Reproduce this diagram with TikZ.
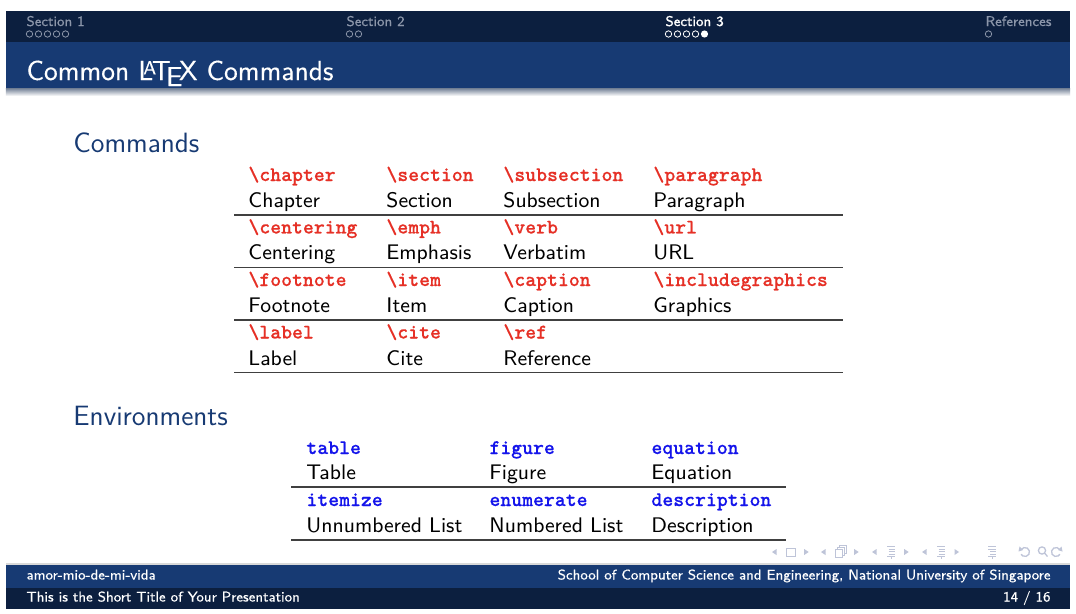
\documentclass[tikz,border=0pt]{standalone}
\usepackage{fontspec}
\renewcommand{\familydefault}{\sfdefault}
\newfontfamily\codefont{lmmonolt10-bold}[Extension=.otf, FakeBold=0.25]
\newfontfamily\headfont{lmsans8-regular}[Extension=.otf, FakeBold=0.35]
\newfontfamily\headfontbf{lmsans8-regular}[Extension=.otf, FakeBold=1.1]
\newfontfamily\titlefont{lmsans10-regular}[Extension=.otf, FakeBold=0.3]
\definecolor{navy}{RGB}{12,31,63}
\definecolor{tblue}{RGB}{23,58,115}
\definecolor{secgray}{RGB}{140,150,170}
\definecolor{cred}{RGB}{230,48,38}
\definecolor{cblue}{RGB}{20,20,235}
\definecolor{navgray}{RGB}{190,196,216}
\tikzset{
  tinytxt/.style={inner sep=0pt, font=\headfont\fontsize{6.0}{7}\selectfont},
  sechead/.style={tinytxt, anchor=base west},
  dotrow/.style={draw=#1, line width=0.35pt},
  frametitle/.style={inner sep=0pt, anchor=base west, text=white, font=\titlefont\fontsize{11.7}{14}\selectfont},
  blockhead/.style={inner sep=0pt, anchor=base west, text=tblue, font=\fontsize{11.9}{14}\selectfont},
  rcode/.style={inner sep=0pt, anchor=base west, text=cred, font=\codefont\fontsize{8.85}{10}\selectfont},
  bcode/.style={inner sep=0pt, anchor=base west, text=cblue, font=\codefont\fontsize{8.85}{10}\selectfont},
  celltxt/.style={inner sep=0pt, anchor=base west, text=black, font=\fontsize{9}{11}\selectfont},
  midrule/.style={draw=black!75, line width=0.45pt},
  botrule/.style={draw=black!75, line width=0.6pt},
  foottxt/.style={tinytxt, text=white},
  nav/.style={navgray, line width=0.4pt},
}
\begin{document}
\begin{tikzpicture}[x=0.4263pt,y=-0.4263pt]
\useasboundingbox (0,0) rectangle (1076,614);
\fill[white] (0,0) rectangle (1076,614);
% head bars
\fill[navy] (6,11) rectangle (1070,42);
\fill[tblue] (6,42) rectangle (1070,88);
\shade[top color=black!35!tblue!60, bottom color=white] (6,88) rectangle (1070,96);
% section navigation
\node[sechead, text=secgray] (s1) at (26,26) {Section 1};
\node[sechead, text=secgray] (s2) at (346,26) {Section 2};
\node[sechead, text=white, font=\headfontbf\fontsize{6.0}{7}\selectfont] (s3) at (665,26) {Section 3};
\node[sechead, text=secgray] (s4) at (985,26) {References};
\foreach \i in {0,...,4} \draw[dotrow=secgray] (29.5+9*\i,34) circle (3.2);
\foreach \i in {0,1} \draw[dotrow=secgray] (349.5+9*\i,34) circle (3.2);
\foreach \i in {0,...,3} \draw[dotrow=white] (668.5+9*\i,34) circle (3.2);
\fill[white] (668.5+36,34) circle (3.6);
\draw[dotrow=secgray] (988.5,34) circle (3.2);
% frame title
\node[frametitle] (title) at (26,80) {Common \LaTeX{} Commands};
% Commands block
\node[blockhead] (h1) at (73,152.5) {Commands};
% table 1
\def\ca{248}\def\cb{386}\def\cc{503}\def\cd{653}
\node[rcode] (c11) at (\ca,181) {\textbackslash chapter};
\node[rcode] (c12) at (\cb,181) {\textbackslash section};
\node[rcode] (c13) at (\cc,181) {\textbackslash subsection};
\node[rcode] (c14) at (\cd,181) {\textbackslash paragraph};
\node[celltxt] (t11) at (\ca,207.5) {Chapter};
\node[celltxt] (t12) at (\cb,207.5) {Section};
\node[celltxt] (t13) at (\cc,207.5) {Subsection};
\node[celltxt] (t14) at (\cd,207.5) {Paragraph};
\node[rcode] (c21) at (\ca,233.5) {\textbackslash centering};
\node[rcode] (c22) at (\cb,233.5) {\textbackslash emph};
\node[rcode] (c23) at (\cc,233.5) {\textbackslash verb};
\node[rcode] (c24) at (\cd,233.5) {\textbackslash url};
\node[celltxt] (t21) at (\ca,260) {Centering};
\node[celltxt] (t22) at (\cb,260) {Emphasis};
\node[celltxt] (t23) at (\cc,260) {Verbatim};
\node[celltxt] (t24) at (\cd,260) {URL};
\node[rcode] (c31) at (\ca,286) {\textbackslash footnote};
\node[rcode] (c32) at (\cb,286) {\textbackslash item};
\node[rcode] (c33) at (\cc,286) {\textbackslash caption};
\node[rcode] (c34) at (\cd,286) {\textbackslash includegraphics};
\node[celltxt] (t31) at (\ca,312.5) {Footnote};
\node[celltxt] (t32) at (\cb,312.5) {Item};
\node[celltxt] (t33) at (\cc,312.5) {Caption};
\node[celltxt] (t34) at (\cd,312.5) {Graphics};
\node[rcode] (c41) at (\ca,338.5) {\textbackslash label};
\node[rcode] (c42) at (\cb,338.5) {\textbackslash cite};
\node[rcode] (c43) at (\cc,338.5) {\textbackslash ref};
\node[celltxt] (t41) at (\ca,365) {Label};
\node[celltxt] (t42) at (\cb,365) {Cite};
\node[celltxt] (t43) at (\cc,365) {Reference};
\draw[midrule] (234,215) -- (843,215);
\draw[midrule] (234,267.5) -- (843,267.5);
\draw[midrule] (234,320) -- (843,320);
\draw[botrule] (234,372.5) -- (843,372.5);
% Environments block
\node[blockhead] (h2) at (73,425.5) {Environments};
\def\ea{306}\def\eb{489}\def\ec{651}
\node[bcode] (e11) at (\ea,454) {table};
\node[bcode] (e12) at (\eb,454) {figure};
\node[bcode] (e13) at (\ec,454) {equation};
\node[celltxt] (u11) at (\ea,479.5) {Table};
\node[celltxt] (u12) at (\eb,479.5) {Figure};
\node[celltxt] (u13) at (\ec,479.5) {Equation};
\node[bcode] (e21) at (\ea,506) {itemize};
\node[bcode] (e22) at (\eb,506) {enumerate};
\node[bcode] (e23) at (\ec,506) {description};
\node[celltxt] (u21) at (\ea,532) {Unnumbered List};
\node[celltxt] (u22) at (\eb,532) {Numbered List};
\node[celltxt] (u23) at (\ec,532) {Description};
\draw[midrule] (291,487) -- (786,487);
\draw[botrule] (291,540) -- (786,540);
% navigation symbols
\begin{scope}[nav]
  \foreach \x in {774,823,874,924} \fill (\x+2.5,549) -- (\x-2,552) -- (\x+2.5,555) -- cycle;
  \foreach \x in {806.7,856.7,906.7,957} \fill (\x-2.5,549) -- (\x+2,552) -- (\x-2.5,555) -- cycle;
  \draw (786,548) rectangle (795,556);
  \draw (835,549.5) rectangle (842,557) (837,549.5) -- (837,547.5) -- (844,547.5) -- (844,555) -- (842,555)
        (839,547.5) -- (839,545.5) -- (846,545.5) -- (846,553) -- (844,553);
  \foreach \x in {891,941} {
    \draw (\x-4,546.5) -- (\x+4,546.5) (\x-2.5,549) -- (\x+4,549) (\x-2.5,551.5) -- (\x+4,551.5)
          (\x-2.5,554) -- (\x+4,554) (\x-4,556.5) -- (\x+4,556.5) (\x,556.5) -- (\x,559);
  }
  \draw (988,546.5) -- (996,546.5) (988,549) -- (996,549) (990,551.5) -- (996,551.5)
        (990,554) -- (996,554) (988,556.5) -- (996,556.5) (992,556.5) -- (992,559);
  \draw[line width=0.55pt] (1025,552) ++(-150:4.5) arc[start angle=-150, end angle=150, radius=4.5];
  \fill (1019.5,546.5) -- (1023,550) -- (1018.5,551.5) -- cycle;
  \draw[line width=0.55pt] (1042,550.5) circle (3.6) (1044.6,553.1) -- (1047.5,556.5);
  \draw[line width=0.55pt] (1056,552) ++(-30:4.5) arc[start angle=-30, end angle=-330, radius=4.5];
  \fill (1061.5,546.5) -- (1058,550) -- (1062.5,551.5) -- cycle;
\end{scope}
% footer
\fill[black!15] (6,563) rectangle (1070,565);
\fill[tblue] (6,565) rectangle (1070,588);
\fill[navy] (6,588) rectangle (1070,609);
\node[foottxt, anchor=base west] (auth) at (26,579.5) {amor-mio-de-mi-vida};
\node[foottxt, anchor=base east] (inst) at (1051,579.5) {School of Computer Science and Engineering, National University of Singapore};
\node[foottxt, anchor=base west] (stitle) at (26,601.5) {This is the Short Title of Your Presentation};
\node[foottxt, anchor=base east] (pg) at (1051,601.5) {14 / 16};
\end{tikzpicture}
\end{document}
